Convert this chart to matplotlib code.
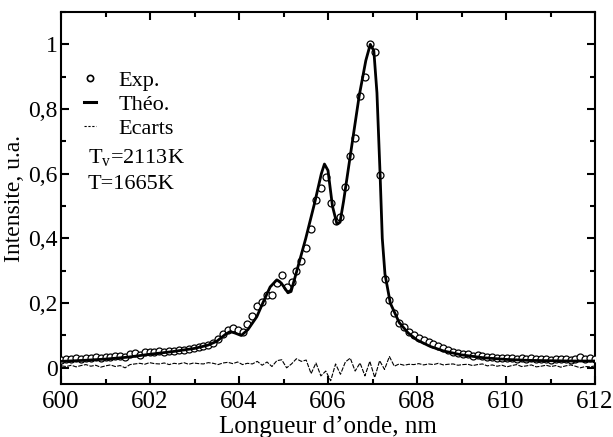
import matplotlib
matplotlib.use("Agg")
import matplotlib.pyplot as plt
from matplotlib.lines import Line2D
from matplotlib.ticker import MultipleLocator

plt.rcParams['font.family'] = ['Liberation Serif', 'DejaVu Serif']
plt.rcParams['mathtext.fontset'] = 'custom'
plt.rcParams['mathtext.rm'] = 'Liberation Serif'
plt.rcParams['mathtext.it'] = 'Liberation Serif'

# ---- Theoretical curve ----
theo_x = [600.0, 600.5, 601.0, 601.5, 602.0, 602.5, 603.0, 603.3, 603.5, 603.7,
          603.8, 603.9, 604.05, 604.2, 604.4, 604.55, 604.7, 604.85, 604.95, 605.1,
          605.17, 605.3, 605.5, 605.7, 605.85, 605.92, 606.0, 606.1, 606.2, 606.27,
          606.35, 606.5, 606.7, 606.85, 606.95, 607.03, 607.1, 607.17, 607.22, 607.28,
          607.4, 607.6, 607.8, 608.0, 608.3, 608.6, 609.0, 609.5, 610.0, 610.5,
          611.0, 611.5, 612.0]
theo_y = [0.020, 0.023, 0.027, 0.033, 0.042, 0.050, 0.060, 0.070, 0.082, 0.104,
          0.112, 0.108, 0.100, 0.118, 0.158, 0.205, 0.250, 0.272, 0.262, 0.232,
          0.236, 0.300, 0.400, 0.510, 0.600, 0.630, 0.610, 0.500, 0.445, 0.450,
          0.515, 0.655, 0.840, 0.950, 1.000, 0.980, 0.850, 0.600, 0.400, 0.290,
          0.200, 0.140, 0.108, 0.086, 0.066, 0.052, 0.040, 0.031, 0.026, 0.023,
          0.022, 0.021, 0.021]

# ---- Experimental points ----
exp_x = [600.01, 600.12, 600.23, 600.34, 600.45, 600.56, 600.67, 600.78, 600.89, 601.00,
         601.11, 601.22, 601.33, 601.44, 601.55, 601.66, 601.77, 601.88, 601.99, 602.10,
         602.21, 602.32, 602.43, 602.54, 602.65, 602.76, 602.87, 602.98, 603.09, 603.20,
         603.31, 603.42, 603.53, 603.64, 603.75, 603.86, 603.97, 604.08, 604.19, 604.30,
         604.41, 604.52, 604.63, 604.74, 604.85, 604.96, 605.07, 605.18, 605.29, 605.40,
         605.51, 605.62, 605.73, 605.84, 605.95, 606.06, 606.17, 606.28, 606.39, 606.50,
         606.61, 606.72, 606.83, 606.94, 607.05, 607.16, 607.27, 607.38, 607.49, 607.60,
         607.71, 607.82, 607.93, 608.04, 608.15, 608.26, 608.37, 608.48, 608.59, 608.70,
         608.81, 608.92, 609.03, 609.14, 609.25, 609.36, 609.47, 609.58, 609.69, 609.80,
         609.91, 610.02, 610.13, 610.24, 610.35, 610.46, 610.57, 610.68, 610.79, 610.90,
         611.01, 611.12, 611.23, 611.34, 611.45, 611.56, 611.67, 611.78, 611.89, 612.00]
exp_y = [0.025, 0.028, 0.026, 0.030, 0.027, 0.031, 0.029, 0.033, 0.030, 0.034,
         0.032, 0.036, 0.038, 0.035, 0.044, 0.046, 0.040, 0.048, 0.050, 0.049,
         0.051, 0.048, 0.053, 0.052, 0.055, 0.054, 0.058, 0.062, 0.064, 0.068,
         0.072, 0.078, 0.088, 0.105, 0.116, 0.122, 0.118, 0.112, 0.136, 0.160,
         0.190, 0.205, 0.226, 0.226, 0.262, 0.288, 0.250, 0.265, 0.300, 0.330,
         0.370, 0.430, 0.520, 0.555, 0.590, 0.510, 0.455, 0.465, 0.560, 0.655,
         0.712, 0.840, 0.900, 1.000, 0.975, 0.597, 0.275, 0.210, 0.170, 0.140,
         0.125, 0.112, 0.100, 0.092, 0.085, 0.080, 0.075, 0.066, 0.062, 0.055,
         0.050, 0.046, 0.042, 0.042, 0.038, 0.040, 0.036, 0.034, 0.033, 0.031,
         0.030, 0.031, 0.029, 0.028, 0.030, 0.027, 0.029, 0.026, 0.028, 0.027,
         0.025, 0.028, 0.026, 0.027, 0.025, 0.028, 0.035, 0.028, 0.030, 0.028]

# ---- Differences (Ecarts) ----
ecart_y = [0.006, 0.004, 0.008, 0.003, 0.007, 0.010, 0.005, 0.008, 0.002, 0.006,
           0.009, 0.004, 0.007, 0.000, 0.010, 0.012, 0.014, 0.011, 0.016, 0.013,
           0.012, 0.015, 0.010, 0.014, 0.012, 0.016, 0.011, 0.015, 0.013, 0.012,
           0.016, 0.014, 0.010, 0.015, 0.017, 0.013, 0.018, 0.010, 0.014, 0.012,
           0.020, 0.008, 0.018, 0.004, 0.022, 0.025, 0.000, 0.012, 0.028, 0.020,
           0.024, -0.018, 0.015, -0.025, -0.010, -0.040, 0.012, -0.020, 0.018, 0.030,
           -0.010, 0.015, -0.025, 0.020, -0.030, 0.022, -0.005, 0.035, 0.005, 0.012,
           0.008, 0.011, 0.010, 0.013, 0.009, 0.012, 0.010, 0.014, 0.009, 0.011,
           0.012, 0.008, 0.010, 0.011, 0.007, 0.010, 0.012, 0.006, 0.009, 0.005,
           0.008, 0.003, 0.007, 0.010, 0.004, 0.006, 0.009, 0.003, 0.005, 0.008,
           0.004, 0.007, 0.002, 0.006, 0.009, 0.005, 0.000, 0.004, 0.003, 0.006]

x_ticks = [600, 602, 604, 606, 608, 610, 612]
y_ticks = [0, 0.2, 0.4, 0.6, 0.8, 1.0]
y_tick_labels = ["0", "0,2", "0,4", "0,6", "0,8", "1"]

fig = plt.figure(figsize=(6.13, 4.37), dpi=100)
ax = fig.add_axes([61/613, 53/437, 534/613, 372/437])

ax.plot(exp_x, exp_y, linestyle='none', marker='o', markersize=5,
        markerfacecolor='white', markeredgecolor='black', markeredgewidth=0.9, zorder=3)
ax.plot(theo_x, theo_y, color='black', linewidth=2.0, zorder=4)
ax.plot(exp_x, ecart_y, color='black', linewidth=0.8, linestyle=(0, (4, 1.2)), zorder=2)

ax.set_xlim(600, 612)
ax.set_ylim(-0.05, 1.1)
ax.set_xticks(x_ticks)
ax.set_xticklabels([str(v) for v in x_ticks])
ax.set_yticks(y_ticks)
ax.set_yticklabels(y_tick_labels)
ax.xaxis.set_minor_locator(MultipleLocator(1))
ax.yaxis.set_minor_locator(MultipleLocator(0.1))
ax.tick_params(which='both', direction='in', top=True, right=True, width=1.5,
               colors='black')
ax.tick_params(axis='x', which='major', labelsize=18, pad=5)
ax.tick_params(axis='y', which='major', labelsize=17, pad=2.5)
ax.tick_params(which='major', length=6)
ax.tick_params(which='minor', length=3.5)
for s in ax.spines.values():
    s.set_linewidth(1.5)

ax.set_xlabel("Longueur d\u2019onde, nm", fontsize=18)
ax.set_ylabel("Intensite, u.a.", fontsize=17)
ax.xaxis.set_label_coords(0.5, -0.086)
ax.yaxis.set_label_coords(-0.067, 0.5)

handles = [
    Line2D([], [], linestyle='none', marker='o', markersize=4.5, markerfacecolor='white',
           markeredgecolor='black', markeredgewidth=1.2),
    Line2D([], [], color='black', linewidth=2.2),
    Line2D([], [], color='black', linewidth=0.8, linestyle=(0, (2, 1.5))),
]
leg = ax.legend(handles, ["Exp.", "Th\u00e9o.", "Ecarts"], loc='upper left',
                bbox_to_anchor=(0.014, 0.885), frameon=False, fontsize=16,
                handlelength=0.55, handletextpad=1.0, labelspacing=0.15, borderpad=0.2)

ax.text(0.05, 0.61, r"T$_{\rm v}$=2113K", transform=ax.transAxes, fontsize=16,
        va='center', ha='left')
ax.text(0.05, 0.535, "T=1665K", transform=ax.transAxes, fontsize=16,
        va='center', ha='left')

fig.savefig("out.png", dpi=100)
